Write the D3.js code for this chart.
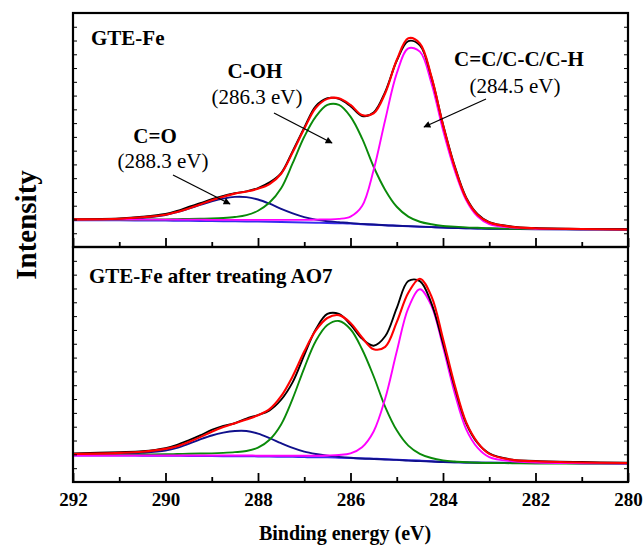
<!DOCTYPE html>
<html>
<head>
<meta charset="utf-8">
<script src="https://cdn.jsdelivr.net/npm/d3@7"></script>
</head>
<body style="margin:0">
<script>
// binding energy grid (eV), shared by every curve
var energy = [292, 291, 290.5, 290, 289.75, 289.5, 289.25, 289, 288.75, 288.5, 288.25, 288,
  287.75, 287.5, 287.25, 287, 286.75, 286.5, 286.25, 286, 285.75, 285.5, 285.25, 285,
  284.75, 284.5, 284.25, 284, 283.75, 283.5, 283.25, 283, 282.5, 282, 281, 280];

// GTE-Fe (upper panel), intensity in % of panel height
var topBase = [11.4, 11.4, 11.35, 11.3, 11.25, 11.2, 11.15, 11.1, 11.05, 11.0, 10.95, 10.9,
  10.8, 10.7, 10.6, 10.5, 10.4, 10.3, 10.15, 10.0, 9.75, 9.5, 9.3, 9.1,
  8.9, 8.7, 8.5, 8.3, 8.15, 8.0, 7.9, 7.8, 7.75, 7.7, 7.6, 7.5];
var topCO = [11.5, 11.8, 12.4, 13.7, 14.9, 16.4, 18.0, 19.5, 20.7, 21.4, 21.3, 20.3,
  18.5, 16.3, 14.4, 12.8, 11.7, 11.0, 10.6, 10.2, 9.9, 9.6, 9.3, 9.1,
  8.9, 8.7, 8.5, 8.3, 8.15, 8.0, 7.9, 7.8, 7.7, 7.6, 7.5, 7.5];
var topCOH = [11.6, 11.6, 11.7, 11.8, 11.9, 12.0, 12.1, 12.2, 12.4, 12.8, 13.6, 15.5,
  19.0, 25.1, 35.8, 47.1, 55.7, 60.7, 60.7, 55.7, 46.4, 34.3, 24.4, 17.2,
  13.0, 10.8, 9.7, 9.0, 8.7, 8.4, 8.2, 8.0, 7.8, 7.7, 7.6, 7.5];
var topCC = [11.7, 11.7, 11.7, 11.7, 11.7, 11.7, 11.7, 11.6, 11.6, 11.6, 11.6, 11.6,
  11.6, 11.6, 11.6, 11.6, 11.7, 11.8, 12.0, 13.0, 17.5, 32.9, 54.3, 74.2,
  84.9, 83.5, 70.0, 50.0, 32.9, 20.1, 13.0, 9.8, 8.3, 7.8, 7.6, 7.5];
var topRaw = [11.9, 12.2, 12.9, 14.1, 15.4, 17.1, 18.7, 20.4, 21.8, 23.0, 23.8, 25.2,
  27.6, 31.6, 41.0, 51.0, 60.2, 63.6, 63.3, 60.2, 56.0, 57.5, 66.3, 79.6,
  88.0, 86.2, 72.5, 52.5, 34.8, 21.2, 14.0, 10.6, 8.7, 8.1, 7.7, 7.6];
var topFit = [11.8, 12.1, 12.7, 13.8, 15.0, 16.5, 18.2, 20.0, 21.5, 22.8, 23.7, 24.9,
  26.9, 31.3, 40.5, 50.5, 59.5, 63.3, 63.6, 60.7, 56.4, 57.1, 65.7, 79.9,
  89.2, 87.0, 72.8, 52.1, 34.3, 20.8, 13.7, 10.5, 8.6, 8.0, 7.7, 7.5];

// GTE-Fe after treating AO7 (lower panel)
var botBase = [11.3, 11.3, 11.2, 11.2, 11.15, 11.1, 11.1, 11.05, 11.0, 11.0, 10.95, 10.9,
  10.8, 10.75, 10.7, 10.6, 10.55, 10.5, 10.35, 10.2, 10.05, 9.9, 9.7, 9.5,
  9.3, 9.1, 8.85, 8.6, 8.45, 8.3, 8.25, 8.2, 8.15, 8.1, 8.0, 7.9];
var botCO = [11.5, 11.8, 12.4, 13.4, 14.5, 16.2, 18.1, 19.8, 21.0, 21.7, 21.7, 20.6,
  18.7, 16.5, 14.5, 12.9, 11.9, 11.2, 10.7, 10.3, 10.0, 9.8, 9.6, 9.4,
  9.1, 8.9, 8.7, 8.5, 8.4, 8.3, 8.2, 8.2, 8.1, 8.1, 8.0, 7.9];
var botCOH = [11.5, 11.6, 11.7, 11.8, 11.9, 12.0, 12.1, 12.2, 12.4, 12.7, 13.2, 14.6,
  18.0, 24.5, 35.5, 48.5, 60.0, 66.8, 68.5, 65.0, 56.5, 45.0, 32.0, 22.0,
  15.5, 12.0, 10.2, 9.2, 8.7, 8.4, 8.2, 8.1, 8.0, 7.9, 7.85, 7.8];
var botCC = [11.3, 11.3, 11.3, 11.3, 11.3, 11.3, 11.3, 11.3, 11.3, 11.3, 11.3, 11.2,
  11.2, 11.2, 11.2, 11.2, 11.2, 11.3, 11.5, 12.2, 14.8, 21.5, 35.5, 55.5,
  74.0, 82.0, 75.0, 57.5, 38.0, 22.5, 14.5, 10.6, 8.8, 8.3, 8.0, 7.9];
var botRaw = [12.2, 12.7, 13.1, 14.4, 15.8, 17.7, 19.8, 22.2, 23.9, 25.0, 27.0, 28.5,
  30.5, 35.0, 42.5, 54.0, 65.0, 71.5, 71.5, 67.0, 61.0, 58.0, 62.0, 74.0,
  85.5, 85.5, 76.0, 59.0, 40.5, 25.0, 16.5, 12.2, 9.5, 9.0, 8.5, 8.2];
var botFit = [11.9, 12.4, 12.9, 14.1, 15.2, 17.0, 19.1, 21.4, 23.4, 25.0, 26.6, 28.4,
  31.0, 36.5, 45.0, 55.5, 64.5, 69.8, 71.0, 67.7, 61.5, 56.5, 57.5, 68.0,
  80.5, 86.5, 79.0, 61.0, 41.5, 25.5, 16.8, 12.0, 9.4, 8.8, 8.3, 8.1];

var majorTicks = [292, 290, 288, 286, 284, 282, 280];
var minorTicks = [291, 289, 287, 285, 283, 281];

var width = 643, height = 547,
    left = 73, right = 628,
    serif = "Liberation Serif";

var svg = d3.select("body").append("svg")
    .attr("width", width)
    .attr("height", height)
    .style("display", "block")
    .style("font-family", serif);

var defs = svg.append("defs");
defs.append("marker")
    .attr("id", "head")
    .attr("viewBox", "0 0 10 10")
    .attr("refX", 9).attr("refY", 5)
    .attr("markerWidth", 9).attr("markerHeight", 7)
    .attr("markerUnits", "userSpaceOnUse")
    .attr("orient", "auto")
    .append("path")
    .attr("d", "M0,0L10,5L0,10Z")
    .attr("fill", "#000");

var x = d3.scaleLinear().domain([292, 280]).range([left, right]);

function drawPanel(top, bottom, series, labelAxis) {
    var y = d3.scaleLinear().domain([0, 100]).range([bottom, top]);
    var g = svg.append("g");

    var line = d3.line()
        .x(function(d) { return x(d[0]); })
        .y(function(d) { return y(d[1]); })
        .curve(d3.curveCatmullRom.alpha(0.5));

    series.forEach(function(s) {
        g.append("path")
            .datum(energy.map(function(e, i) { return [e, s.values[i]]; }))
            .attr("fill", "none")
            .attr("stroke", s.color)
            .attr("stroke-width", s.width)
            .attr("stroke-linejoin", "round")
            .attr("d", line);
    });

    // y ticks, no labels
    var yTicks = d3.range(0, 17).map(function(k) { return k * 100 / 17; });
    g.append("g")
        .attr("transform", "translate(" + left + ",0)")
        .call(d3.axisLeft(y).tickValues(yTicks).tickSize(-4).tickFormat(""))
        .call(function(a) { a.select(".domain").remove(); });
    g.append("g")
        .attr("transform", "translate(" + right + ",0)")
        .call(d3.axisRight(y).tickValues(yTicks).tickSize(-4).tickFormat(""))
        .call(function(a) { a.select(".domain").remove(); });

    var major = g.append("g")
        .attr("transform", "translate(0," + bottom + ")")
        .call(d3.axisBottom(x).tickValues(majorTicks).tickSizeInner(-9).tickSizeOuter(0)
            .tickPadding(11).tickFormat(labelAxis ? d3.format("d") : ""));
    major.select(".domain").remove();
    major.selectAll("line").attr("stroke-width", 1.8);
    major.selectAll("text")
        .attr("fill", "#000")
        .style("font-family", serif)
        .style("font-size", "19px")
        .style("font-weight", "bold");

    var minor = g.append("g")
        .attr("transform", "translate(0," + bottom + ")")
        .call(d3.axisBottom(x).tickValues(minorTicks).tickSizeInner(-5).tickSizeOuter(0).tickFormat(""));
    minor.select(".domain").remove();
    minor.selectAll("line").attr("stroke-width", 1.8);

    g.append("rect")
        .attr("x", left).attr("y", top)
        .attr("width", right - left).attr("height", bottom - top)
        .attr("fill", "none")
        .attr("stroke", "#000")
        .attr("stroke-width", 2.2);
    return g;
}

function curves(base, co, coh, cc, raw, fit) {
    return [
        {values: base, color: "#3a2cf0", width: 2},
        {values: co, color: "#10108c", width: 1.9},
        {values: coh, color: "#0a8a0a", width: 1.9},
        {values: cc, color: "#ff00ff", width: 1.9},
        {values: raw, color: "#000000", width: 1.9},
        {values: fit, color: "#ff0000", width: 2.1}
    ];
}

drawPanel(13, 247, curves(topBase, topCO, topCOH, topCC, topRaw, topFit), false);
drawPanel(247, 482, curves(botBase, botCO, botCOH, botCC, botRaw, botFit), true);

function label(txt, xp, yp, size, bold, anchor) {
    return svg.append("text")
        .attr("x", xp).attr("y", yp)
        .attr("text-anchor", anchor || "middle")
        .attr("fill", "#000")
        .style("font-family", serif)
        .style("font-size", size + "px")
        .style("font-weight", bold ? "bold" : "normal")
        .text(txt);
}

function arrow(x1, y1, x2, y2) {
    svg.append("line")
        .attr("x1", x1).attr("y1", y1).attr("x2", x2).attr("y2", y2)
        .attr("stroke", "#000")
        .attr("stroke-width", 1.3)
        .attr("marker-end", "url(#head)");
}

label("GTE-Fe", 91, 45, 21, true, "start");
label("C-OH", 255, 78, 21, true);
label("(286.3 eV)", 257, 104, 21, false);
arrow(274, 113, 332, 143);
label("C=O", 155, 143, 21, true);
label("(288.3 eV)", 163, 168, 21, false);
arrow(173, 175, 230, 204);
label("C=C/C-C/C-H", 519, 66, 21, true);
label("(284.5 eV)", 515, 93, 21, false);
arrow(486, 99, 424, 127);

label("GTE-Fe after treating AO7", 89, 283, 21, true, "start");

label("Binding energy (eV)", 345, 540, 20, true);

label("Intensity", 0, 0, 29, true)
    .attr("transform", "translate(36,225) rotate(-90)");
</script>
</body>
</html>
